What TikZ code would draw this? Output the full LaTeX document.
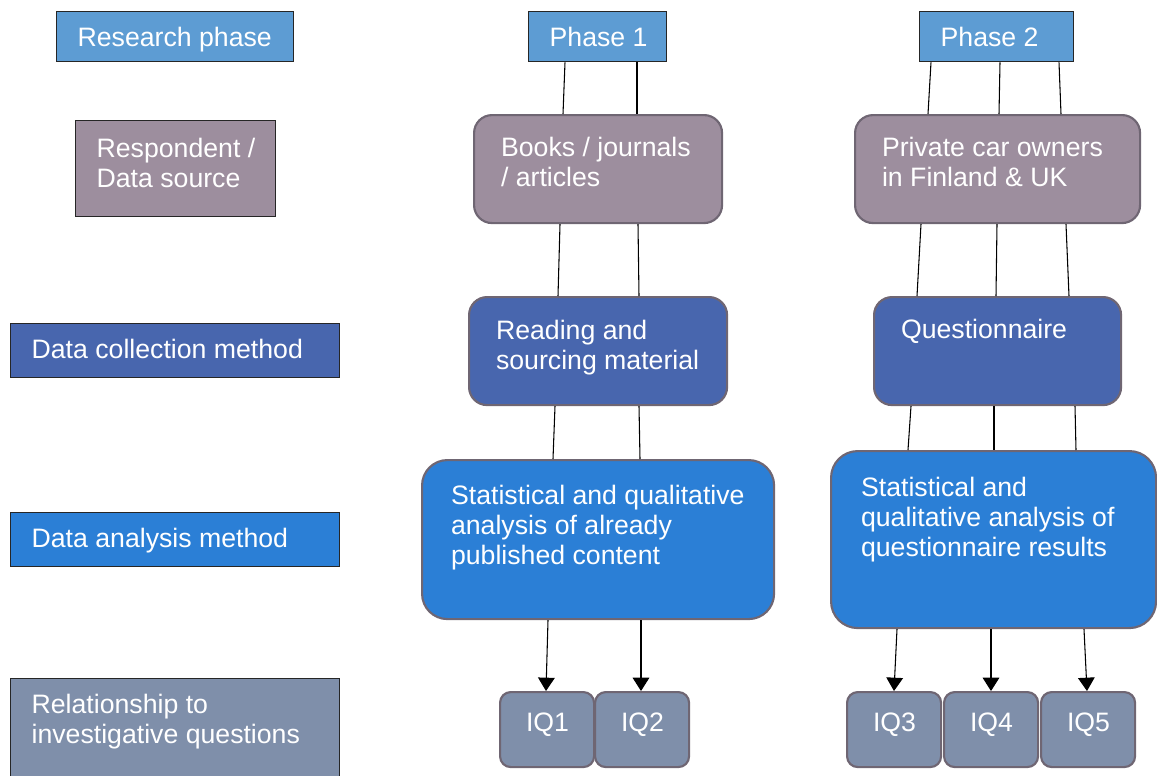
\documentclass[tikz,border=0pt]{standalone}
\usepackage{fontspec}
\setmainfont{Liberation Sans}
\usetikzlibrary{arrows.meta}
\newdimen\pxu \pxu=0.75pt
\newcommand\bx[5]{\vbox to #2\pxu{\hsize=#1\pxu\leftskip=#3\pxu\rightskip=0pt plus 1fil\parindent=0pt\parfillskip=0pt plus 1fil\let\\\newline\noindent\rule{0pt}{#4\pxu}#5\par\vfil}}
\definecolor{phaseblue}{HTML}{5D9CD3}
\definecolor{respgray}{HTML}{9D8E9E}
\definecolor{collblue}{HTML}{4866AE}
\definecolor{analblue}{HTML}{2B7FD6}
\definecolor{iqgray}{HTML}{7F8FAA}
\definecolor{rborder}{HTML}{6F6673}
\begin{document}
\begin{tikzpicture}[x=0.75pt,y=-0.75pt,
  every node/.style={font=\fontsize{20}{22.5}\selectfont, text=white, inner sep=0pt, anchor=north west},
  lab/.style={draw=black!85, line width=1pt, fill=#1},
  rbox/.style={draw=rborder, line width=1.6pt, fill=#1},
  conn/.style={line width=0.8pt, draw=black},
  arr/.style={conn, -{Triangle[width=12.5pt,length=10pt]}}]
\useasboundingbox (0,0) rectangle (1157,775);
\begin{scope}
\clip (0,0) rectangle (1157,775);
% row labels
\node[lab=phaseblue] (rp) at (56,11) {\bx{237}{50}{21}{35}{Research phase}};
\node[lab=respgray] (rd) at (75,120) {\bx{200}{96}{21}{37}{Respondent /\\Data source}};
\node[lab=collblue] (dc) at (10,323) {\bx{329}{54}{21}{35}{Data collection method}};
\node[lab=analblue] (da) at (10,512) {\bx{329}{54}{21}{35}{Data analysis method}};
\node[lab=iqgray] (ri) at (10,678) {\bx{329}{112}{21}{35}{Relationship to\\investigative questions}};
% phases
\node[lab=phaseblue] (p1) at (528,11) {\bx{138}{50}{21}{35}{Phase 1}};
\node[lab=phaseblue] (p2) at (919,11) {\bx{154}{50}{21}{35}{Phase 2}};
% phase 1 column
\node[rbox=respgray, rounded corners=13.5pt] (books) at (473,114) {\bx{248}{108}{27}{41}{Books / journals\\/ articles}};
\node[rbox=collblue, rounded corners=13.5pt] (read) at (468,296) {\bx{258}{108}{27}{42}{Reading and\\sourcing material}};
\node[rbox=analblue, rounded corners=19pt] (st1) at (421,459) {\bx{352}{159}{29}{44}{Statistical and qualitative\\analysis of already\\published content}};
\node[rbox=iqgray, rounded corners=8pt] (iq1) at (499,691) {\bx{94}{75}{26}{39}{IQ1}};
\node[rbox=iqgray, rounded corners=8pt] (iq2) at (594,691) {\bx{94}{75}{26}{39}{IQ2}};
% phase 2 column
\node[rbox=respgray, rounded corners=13.5pt] (priv) at (854,114) {\bx{285}{108}{27}{41}{Private car owners\\in Finland \& UK}};
\node[rbox=collblue, rounded corners=13.5pt] (quest) at (873,296) {\bx{247}{108}{27}{41}{Questionnaire}};
\node[rbox=analblue, rounded corners=20pt] (st2) at (830,450) {\bx{325}{177}{30}{45}{Statistical and\\qualitative analysis of\\questionnaire results}};
\node[rbox=iqgray, rounded corners=8pt] (iq3) at (846,691) {\bx{94}{75}{26}{39}{IQ3}};
\node[rbox=iqgray, rounded corners=8pt] (iq4) at (943,691) {\bx{94}{75}{26}{39}{IQ4}};
\node[rbox=iqgray, rounded corners=8pt] (iq5) at (1040,691) {\bx{94}{75}{26}{39}{IQ5}};
% connectors phase 1
\draw[conn] (p1.south -| 565,0) -- (books.north -| 563,0);
\draw[conn] (p1.south -| 637,0) -- (books.north -| 637,0);
\draw[conn] (books.south -| 560,0) -- (read.north -| 558,0);
\draw[conn] (books.south -| 638,0) -- (read.north -| 639,0);
\draw[conn] (read.south -| 555,0) -- (st1.north -| 553,0);
\draw[conn] (read.south -| 639,0) -- (st1.north -| 640,0);
\draw[arr] (st1.south -| 548,0) -- (iq1.north -| 546,0);
\draw[arr] (st1.south -| 641,0) -- (iq2.north -| 641,0);
% connectors phase 2
\draw[conn] (p2.south -| 931,0) -- (priv.north -| 928,0);
\draw[conn] (p2.south -| 1000,0) -- (priv.north -| 999,0);
\draw[conn] (p2.south -| 1059,0) -- (priv.north -| 1061,0);
\draw[conn] (priv.south -| 921,0) -- (quest.north -| 917,0);
\draw[conn] (priv.south -| 997,0) -- (quest.north -| 996,0);
\draw[conn] (priv.south -| 1066,0) -- (quest.north -| 1069,0);
\draw[conn] (quest.south -| 911,0) -- (st2.north -| 908,0);
\draw[conn] (quest.south -| 994,0) -- (st2.north -| 994,0);
\draw[conn] (quest.south -| 1075,0) -- (st2.north -| 1076,0);
\draw[arr] (st2.south -| 897,0) -- (iq3.north -| 894,0);
\draw[arr] (st2.south -| 991,0) -- (iq4.north -| 991,0);
\draw[arr] (st2.south -| 1084,0) -- (iq5.north -| 1087,0);
\end{scope}
\end{tikzpicture}
\end{document}
